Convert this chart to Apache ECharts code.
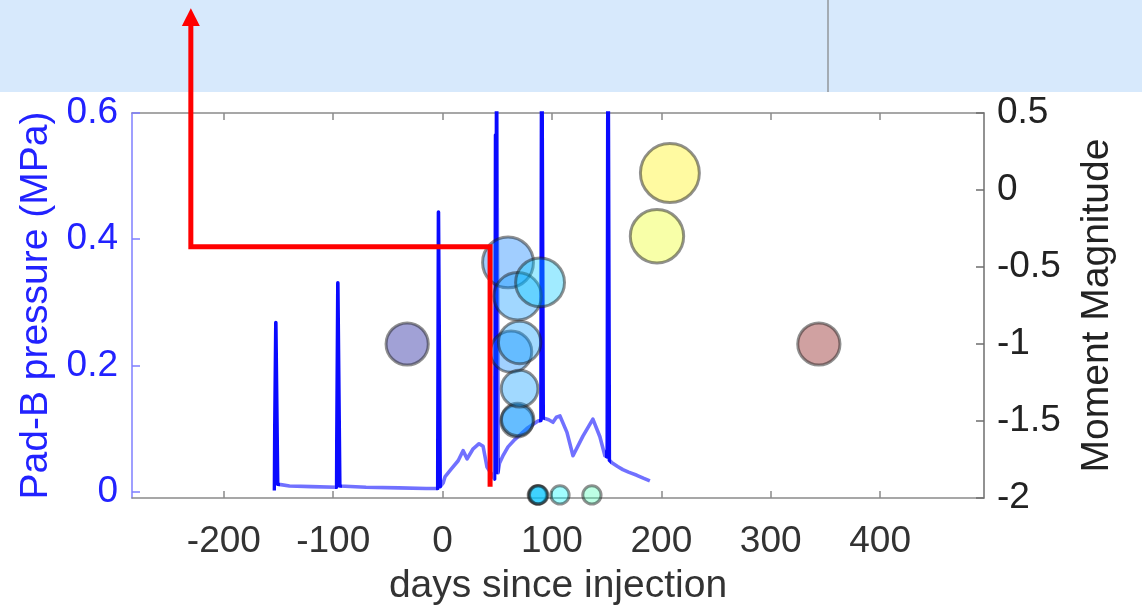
<!DOCTYPE html>
<html>
<head>
<meta charset="utf-8">
<script src="https://cdn.jsdelivr.net/npm/echarts@6/dist/echarts.min.js"></script>
<style>
html, body { margin: 0; padding: 0; background: #ffffff; }
#chart { width: 1142px; height: 611px; }
</style>
</head>
<body>
<div id="chart"></div>
<script>
// Pad-B pressure record: days since injection and pressure in MPa
const pressureDays = [
  -154, -153, -152.5, -150.8, -140, -120, -97, -95.8, -94, -70, -40, -15,
  -4.5, -3.8, -2.2, 0.5, 2.3, 8, 14.2, 18.7, 22.4, 27.9, 33.3, 37, 40.6,
  47.5, 48.3, 48.8, 49.4, 50.6, 52, 55.5, 59.8, 66.2, 77, 87.2, 89.9, 90.6,
  92, 93.6, 97, 100.9, 104, 107.3, 113.7, 119.2, 128.3, 137.4, 143.8, 148.4,
  150.5, 151.2, 152.5, 154.8, 160, 164.8, 170, 177.6, 184, 189.5
];
const pressureMPa = [
  0.002, 0.003, 0.268, 0.012, 0.009, 0.008, 0.007, 0.331, 0.009, 0.007, 0.006, 0.005,
  0.005, 0.443, 0.008, 0.014, 0.024, 0.036, 0.049, 0.065, 0.052, 0.068, 0.076, 0.072, 0.039,
  0.02, 0.565, 0.03, 0.8, 0.03, 0.045, 0.058, 0.071, 0.083, 0.1, 0.112, 0.113, 0.8,
  0.117, 0.118, 0.114, 0.11, 0.118, 0.12, 0.094, 0.057, 0.088, 0.115, 0.087, 0.057,
  0.055, 0.8, 0.05, 0.046, 0.04, 0.035, 0.031, 0.026, 0.021, 0.017
];

// Located events: day of occurrence and moment magnitude
const eventDays = [-32.4, 59.8, 62.6, 68.6, 68.0, 68.6, 70.4, 70.4, 86.6, 87.2, 87.8, 89.1, 107.3, 136.5, 196, 207.8, 344];
const eventMw   = [-1.0, -0.47, -1.05, -0.69, -1.50, -1.49, -0.99, -1.29, -1.98, -1.98, -1.98, -0.60, -1.98, -1.98, -0.30, 0.11, -1.0];

// Tick values
const dayTicks = [-200, -100, 0, 100, 200, 300, 400];
const pressureTicks = [0, 0.2, 0.4, 0.6];
const magnitudeTicks = [-2, -1.5, -1, -0.5, 0, 0.5];

// Annotation arrow path, in (day, MPa)
const arrowDays = [43.4, 43.4, -230.2, -230.2];
const arrowMPa = [0.008, 0.388, 0.388, 0.738];
const arrowTipMPa = 0.766;

const FONT = 'Liberation Sans, Arial, Helvetica, sans-serif';
const FS = 37;      // tick labels
const FS_NAME = 39; // axis titles

// Jet colour ramp with transparency, used for event time
const jetA = 0.46;
const jet = [
  [0, 0, 143], [0, 0, 255], [0, 128, 255], [0, 255, 255], [128, 255, 128],
  [255, 255, 0], [255, 128, 0], [255, 0, 0], [128, 0, 0]
].map(c => `rgba(${c[0]},${c[1]},${c[2]},${jetA})`);

function markerSize(mw) {
  return 20 * Math.sqrt(1 + 4 * (mw + 2)) - 2.5;
}

const SOLID = '#0a0aff';
const LIGHT = 'rgba(25,25,255,0.62)';

const chart = echarts.init(document.getElementById('chart'), null, { renderer: 'canvas' });

const grayAxis = '#8a8a8a';
const blueAxis = '#7f7fff';

chart.setOption({
  animation: false,
  backgroundColor: '#ffffff',
  grid: { left: 132, right: 158, top: 113, bottom: 112.5, containLabel: false },
  xAxis: [
    {
      type: 'value', position: 'bottom', min: -284, max: 495,
      axisLine: { show: true, onZero: false, lineStyle: { color: grayAxis, width: 1.5 } },
      axisTick: { show: true, inside: true, length: 7, customValues: dayTicks, lineStyle: { color: grayAxis, width: 1.5 } },
      axisLabel: { customValues: dayTicks, margin: 25, color: '#333333', fontSize: FS, fontFamily: FONT },
      splitLine: { show: false },
      name: 'days since injection', nameLocation: 'middle', nameGap: 69,
      nameTextStyle: { color: '#333333', fontSize: FS_NAME, fontFamily: FONT }
    },
    {
      type: 'value', position: 'top', min: -284, max: 495,
      axisLine: { show: true, onZero: false, lineStyle: { color: grayAxis, width: 1.5 } },
      axisTick: { show: true, inside: true, length: 7, customValues: dayTicks, lineStyle: { color: grayAxis, width: 1.5 } },
      axisLabel: { show: false, customValues: dayTicks },
      splitLine: { show: false }
    }
  ],
  yAxis: [
    {
      type: 'value', position: 'left', min: -0.01, max: 0.6,
      axisLine: { show: true, onZero: false, lineStyle: { color: blueAxis, width: 1.5 } },
      axisTick: { show: true, inside: true, length: 8, customValues: pressureTicks, lineStyle: { color: blueAxis, width: 1.5 } },
      axisLabel: { customValues: pressureTicks, margin: 14, color: '#2222ff', fontSize: FS, fontFamily: FONT },
      splitLine: { show: false },
      name: 'Pad-B pressure (MPa)', nameLocation: 'middle', nameGap: 66, nameRotate: 90,
      nameTextStyle: { color: '#2222ff', fontSize: FS_NAME, fontFamily: FONT }
    },
    {
      type: 'value', position: 'right', min: -2, max: 0.5,
      axisLine: { show: true, onZero: false, lineStyle: { color: '#6e6e6e', width: 1.5 } },
      axisTick: { show: true, inside: true, length: 8, customValues: magnitudeTicks, lineStyle: { color: '#6e6e6e', width: 1.5 } },
      axisLabel: { customValues: magnitudeTicks, margin: 13, color: '#222222', fontSize: FS, fontFamily: FONT },
      splitLine: { show: false },
      name: 'Moment Magnitude', nameLocation: 'middle', nameGap: 94, nameRotate: 90,
      nameTextStyle: { color: '#222222', fontSize: FS_NAME, fontFamily: FONT }
    }
  ],
  visualMap: [
    {
      type: 'continuous', show: false, seriesIndex: 1, dimension: 0,
      min: -32, max: 344, inRange: { color: jet }
    }
  ],
  series: [
    {
      name: 'Pad-B pressure', type: 'line', xAxisIndex: 0, yAxisIndex: 0,
      data: pressureDays.map((d, i) => [d, pressureMPa[i]]),
      symbol: 'none', showSymbol: false, clip: true, z: 2,
      lineStyle: { width: 3.6, join: 'round', color: LIGHT }
    },
    {
      name: 'Events', type: 'scatter', xAxisIndex: 0, yAxisIndex: 1,
      data: eventDays.map((d, i) => [d, eventMw[i]]),
      symbolSize: v => markerSize(v[1]),
      clip: false, z: 3,
      itemStyle: { borderColor: 'rgba(30,30,30,0.62)', borderWidth: 3 }
    }
  ]
});

// Pixel helpers from the pressure axes
const px = (d, p) => chart.convertToPixel({ xAxisIndex: 0, yAxisIndex: 0 }, [d, p]);

// Pressure trace: injection spikes drawn solid, the low background lighter.
// Spike columns are found from the samples above the background level.
const xL = px(-284, 0)[0];
const xR = px(495, 0)[0];
const span = xR - xL;
const stops = [{ offset: 0, color: LIGHT }];
let i = 0;
while (i < pressureMPa.length) {
  if (pressureMPa[i] > 0.2) {
    let j = i;
    while (j + 1 < pressureMPa.length && pressureMPa[j + 1] > 0.2) j++;
    const a = (px(pressureDays[Math.max(i - 1, 0)], 0)[0] - 2 - xL) / span;
    const b = (px(pressureDays[Math.min(j + 1, pressureDays.length - 1)], 0)[0] + 2 - xL) / span;
    stops.push({ offset: a, color: LIGHT }, { offset: a, color: SOLID },
               { offset: b, color: SOLID }, { offset: b, color: LIGHT });
    i = j + 1;
  } else {
    i++;
  }
}
stops.push({ offset: 1, color: LIGHT });
const traceColor = new echarts.graphic.LinearGradient(xL, 0, xR, 0, stops, true);

// Header band and the arrow annotation on top of the plot
const pts = arrowDays.map((d, k) => px(d, arrowMPa[k]));
const tip = px(arrowDays[3], arrowTipMPa);
const base = pts[3];

chart.setOption({
  series: [{ lineStyle: { color: traceColor } }, {}],
  graphic: [
    { type: 'rect', z: 50, shape: { x: 0, y: 0, width: 1142, height: 92 }, style: { fill: '#d7e9fc' } },
    { type: 'line', z: 51, shape: { x1: 828, y1: 0, x2: 828, y2: 92 }, style: { stroke: '#a3abb3', lineWidth: 2 } },
    { type: 'polyline', z: 60, shape: { points: pts }, style: { stroke: '#ff0000', lineWidth: 5, fill: null, lineJoin: 'miter', lineCap: 'butt' } },
    { type: 'polygon', z: 60, shape: { points: [[tip[0], tip[1]], [tip[0] - 9, base[1]], [tip[0] + 9, base[1]]] }, style: { fill: '#ff0000' } }
  ]
});
</script>
</body>
</html>
